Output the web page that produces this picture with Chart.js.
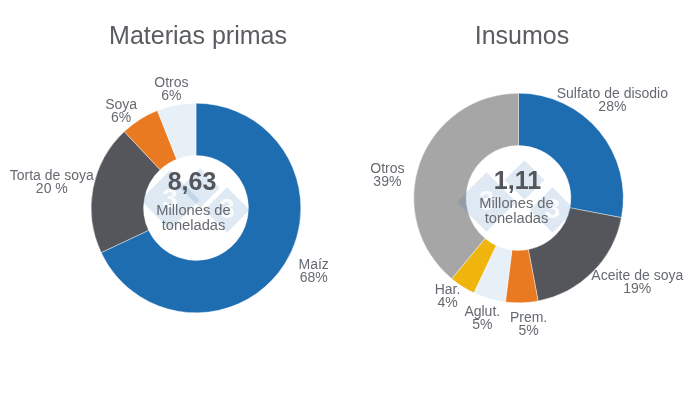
<!DOCTYPE html>
<html lang="es">
<head>
  <meta charset="UTF-8" />
  <title>Materias primas e insumos</title>
  <script src="https://cdn.jsdelivr.net/npm/chart.js@4"></script>
  <style>
    html, body { margin: 0; padding: 0; background: #fff; }
    .wrap { position: relative; width: 700px; height: 400px; overflow: hidden; }
    canvas { position: absolute; top: 0; }
    #chart-materias { left: 0; }
    #chart-insumos { left: 350px; }
  </style>
</head>
<body>
  <div class="wrap">
    <canvas id="chart-materias" width="350" height="400"></canvas>
    <canvas id="chart-insumos" width="350" height="400"></canvas>
  </div>

  <script>
    // Data
    var materiasLabels = ['Maíz', 'Torta de soya', 'Soya', 'Otros'];
    var materiasValues = [68, 20, 6, 6];
    var materiasPercent = ['68%', '20 %', '6%', '6%'];
    var materiasTotal = '8,63';

    var insumosLabels = ['Sulfato de disodio', 'Aceite de soya', 'Prem.', 'Aglut.', 'Har.', 'Otros'];
    var insumosValues = [28, 19, 5, 5, 4, 39];
    var insumosPercent = ['28%', '19%', '5%', '5%', '4%', '39%'];
    var insumosTotal = '1,11';

    var centerLines = ['Millones de', 'toneladas'];

    var BLUE = '#1f6db1', DARK = '#54565b', ORANGE = '#e97a22', PALE = '#e8f0f7', YELLOW = '#f0b50d', GREY = '#a6a6a6';
    var TEXT = '#666a70';
    var FONT = '"Liberation Sans", Arial, sans-serif';

    // Label placement: gap from the ring along the slice's mid angle, then a small pixel nudge
    var materiasNudge = [[3, -9.5], [0, 2.5], [-9, 7], [-2, 0.5]];
    var insumosNudge = [[-10, -11], [27, -7], [6, -3.5], [0, -4.5], [-3, -8.5], [-9, 21.5]];

    // Chart title drawn by hand, it sits a few pixels off the ring's centre
    var titlePlugin = {
      id: 'sideTitle',
      afterDraw: function (chart, args, opts) {
        var ctx = chart.ctx;
        ctx.save();
        ctx.font = '25px ' + FONT;
        ctx.fillStyle = '#595c60';
        ctx.textAlign = 'center';
        ctx.textBaseline = 'middle';
        ctx.fillText(opts.text, opts.x, opts.y);
        ctx.restore();
      }
    };

    var labelsPlugin = {
      id: 'sliceLabels',
      afterDatasetsDraw: function (chart, args, opts) {
        var ctx = chart.ctx;
        var arcs = chart.getDatasetMeta(0).data;
        ctx.save();
        ctx.font = '14px ' + FONT;
        ctx.fillStyle = TEXT;
        ctx.textAlign = 'center';
        ctx.textBaseline = 'middle';
        arcs.forEach(function (arc, i) {
          var mid = (arc.startAngle + arc.endAngle) / 2;
          var r = arc.outerRadius + opts.gaps[i];
          var x = arc.x + Math.cos(mid) * r + opts.nudge[i][0];
          var y = arc.y + Math.sin(mid) * r + opts.nudge[i][1];
          ctx.fillText(chart.data.labels[i], x, y - 6.5);
          ctx.fillText(opts.percent[i], x, y + 6.5);
        });
        ctx.restore();
      }
    };

    // Pale watermark of three diamonds, then the total in the hole
    var centerPlugin = {
      id: 'centerText',
      afterDatasetsDraw: function (chart, args, opts) {
        var ctx = chart.ctx;
        var arc = chart.getDatasetMeta(0).data[0];
        ctx.save();
        ctx.translate(arc.x, arc.y);
        opts.marks.forEach(function (m) {
          ctx.save();
          ctx.translate(m[0], m[1]);
          ctx.rotate(Math.PI / 4);
          ctx.fillStyle = 'rgba(31, 109, 177, 0.15)';
          ctx.fillRect(-m[2], -m[2], m[2] * 2, m[2] * 2);
          ctx.restore();
          if (m[3]) {
            ctx.fillStyle = 'rgba(255, 255, 255, 0.85)';
            ctx.font = 'bold ' + m[3] + 'px ' + FONT;
            ctx.textAlign = 'center';
            ctx.textBaseline = 'middle';
            ctx.fillText('3', m[0], m[1]);
          }
        });
        ctx.textAlign = 'center';
        ctx.textBaseline = 'middle';
        ctx.fillStyle = DARK;
        ctx.font = 'bold 25px ' + FONT;
        ctx.fillText(opts.total, opts.textX, opts.totalY);
        ctx.fillStyle = TEXT;
        ctx.font = '14.7px ' + FONT;
        ctx.fillText(centerLines[0], opts.lineX, opts.lineY);
        ctx.fillText(centerLines[1], opts.lineX, opts.lineY + 15);
        ctx.restore();
      }
    };

    function makeDoughnut(id, labels, values, colors, padding, titleOpts, labelOpts, centerOpts) {
      return new Chart(document.getElementById(id), {
        type: 'doughnut',
        data: {
          labels: labels,
          datasets: [{ data: values, backgroundColor: colors, borderColor: '#ffffff', borderWidth: 0.4 }]
        },
        options: {
          responsive: false,
          animation: false,
          cutout: '50%',
          layout: { padding: padding },
          plugins: {
            legend: { display: false },
            tooltip: { enabled: false },
            sideTitle: titleOpts,
            sliceLabels: labelOpts,
            centerText: centerOpts
          }
        },
        plugins: [centerPlugin, labelsPlugin, titlePlugin]
      });
    }

    makeDoughnut('chart-materias', materiasLabels, materiasValues,
      [BLUE, DARK, ORANGE, PALE],
      { left: 91, right: 49, top: 103, bottom: 87 },
      { text: 'Materias primas', x: 198, y: 37.5 },
      { percent: materiasPercent, nudge: materiasNudge, gaps: [31, 42, 18, 16] },
      { total: materiasTotal, textX: -4, totalY: -24.5, lineX: -2.5, lineY: 2.5,
        marks: [[-26, -8, 21, 28], [4, -20, 14, 0], [31, 2, 16, 28]] });

    makeDoughnut('chart-insumos', insumosLabels, insumosValues,
      [BLUE, DARK, ORANGE, PALE, YELLOW, GREY],
      { left: 63, right: 76, top: 93, bottom: 97 },
      { text: 'Insumos', x: 172, y: 37.5 },
      { percent: insumosPercent, nudge: insumosNudge, gaps: [30, 25, 25, 25, 22, 25] },
      { total: insumosTotal, textX: -1, totalY: -16, lineX: -2, lineY: 6,
        marks: [[-32, 4, 21, 28], [6, -18, 14, 0], [34, 12, 16, 28]] });
  </script>
</body>
</html>
